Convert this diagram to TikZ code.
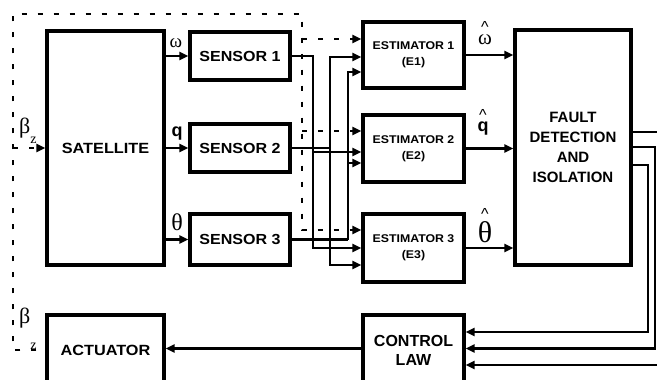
\documentclass[tikz,border=0pt]{standalone}
\usepackage{fontspec}
\setmainfont{Liberation Sans}
\newfontfamily\grk{Liberation Serif}
\newfontfamily\wide[FakeStretch=1.1]{Liberation Sans}
\usetikzlibrary{arrows.meta}
\begin{document}
\begin{tikzpicture}[x=1pt,y=-1pt,
  blk/.style={draw,line width=3.2pt,inner sep=0pt,align=center,font=\bfseries\fontsize{15}{20}\selectfont},
  est/.style={blk,minimum width=101pt,font=\wide\bfseries\fontsize{11.2}{16}\selectfont},
  sens/.style={blk,minimum width=100pt,minimum height=48pt,font=\wide\bfseries\fontsize{14.6}{18}\selectfont},
  wire/.style={line width=2.6pt},
  arr/.style={wire,-{Triangle[length=9pt,width=8pt]}},
  dots/.style={line width=2.9pt,dash pattern=on 5pt off 11pt},
  darr/.style={dots,-{Triangle[length=9pt,width=8pt]}},
  lab/.style={inner sep=0pt,anchor=base},
  caret/.style={inner sep=0pt,anchor=base,font=\fontsize{16}{16}\selectfont}
]
\useasboundingbox (0,0) rectangle (657,380);
\clip (0,0) rectangle (657,380);
% blocks
\node[blk,minimum width=117pt,minimum height=234pt,font=\wide\bfseries\fontsize{14.8}{18}\selectfont] (sat) at (105.5,148) {SATELLITE};
\node[sens] (s1) at (240,56) {SENSOR 1};
\node[sens] (s2) at (240,148) {SENSOR 2};
\node[sens,minimum height=51pt] (s3) at (240,239.5) {SENSOR 3};
\node[blk,minimum width=117pt,minimum height=70pt,font=\wide\bfseries\fontsize{14.8}{18}\selectfont] (act) at (105.5,350) {ACTUATOR};
\node[est,minimum height=66pt] (e1) at (413.5,55) {ESTIMATOR 1\\(E1)};
\node[est,minimum height=67pt] (e2) at (413.5,148.5) {ESTIMATOR 2\\(E2)};
\node[est,minimum height=68pt] (e3) at (413.5,248) {ESTIMATOR 3\\(E3)};
\node[blk,minimum width=116pt,minimum height=235pt] (fdi) at (573,147.5) {FAULT\\DETECTION\\AND\\ISOLATION};
\node[blk,minimum width=101pt,minimum height=70pt,font=\bfseries\fontsize{16}{19}\selectfont] (cl) at (413.5,350) {CONTROL\\LAW};
% helper coordinates
\coordinate (vd) at (302,0); \coordinate (vl) at (13,0);
\coordinate (v1) at (313,0); \coordinate (v2) at (330,0); \coordinate (v3) at (348,0);
\coordinate (top) at (0,14);
\coordinate (i1a) at (0,39);  \coordinate (i1b) at (0,57);  \coordinate (i1c) at (0,72);
\coordinate (i2a) at (0,131); \coordinate (i2b) at (0,152); \coordinate (i2c) at (0,163);
\coordinate (i3a) at (0,230); \coordinate (i3b) at (0,248); \coordinate (i3c) at (0,265);
\coordinate (rx) at (662,0); \coordinate (r2) at (655,0); \coordinate (r3) at (648,0);
\coordinate (o1) at (0,132); \coordinate (o2) at (0,147); \coordinate (o3) at (0,165);
\coordinate (c1) at (0,332); \coordinate (c2) at (0,348.5); \coordinate (c3) at (0,365);
% satellite to sensors
\draw[arr] (sat.east |- s1.west) -- (s1.west);
\draw[arr] (sat.east |- s2.west) -- (s2.west);
\draw[arr] (sat.east |- s3.west) -- (s3.west);
% sensor 1
\draw[arr] (s1.east) -| (v1 |- i2b) -- (e2.west |- i2b);
\draw[arr] (v1 |- i2b) |- (e3.west |- i3b);
% sensor 2
\draw[wire] (s2.east) -- (s2.east -| v2);
\draw[arr] (s2.east -| v2) |- (e1.west |- i1b);
\draw[arr] (s2.east -| v2) |- (e3.west |- i3c);
% sensor 3
\draw[wire] (s3.east) -- (s3.east -| v3);
\draw[arr] (s3.east -| v3) |- (e1.west |- i1c);
\draw[arr] (v3 |- i2c) -- (e2.west |- i2c);
% dotted beta_z loop
\coordinate (bstart) at ([xshift=-9pt]act.west);
\draw[darr] (bstart) -| (vl |- top) -| (vd |- i3a) -- (e3.west |- i3a);
\draw[darr] (vd |- i1a) -- (e1.west |- i1a);
\draw[darr] (vd |- i2a) -- (e2.west |- i2a);
\draw[darr] (vl |- sat.west) -- (sat.west);
% estimator outputs
\draw[arr] (e1.east) -- (fdi.west |- e1.east);
\draw[arr] (e2.east) -- (fdi.west |- e2.east);
\draw[arr] (e3.east) -- (fdi.west |- e3.east);
% FDI outputs and control law
\draw[wire] (fdi.east |- o1) -- (rx |- o1);
\draw[arr] (fdi.east |- o2) -| (r2 |- c2) -- (cl.east |- c2);
\draw[arr] (fdi.east |- o3) -| (r3 |- c1) -- (cl.east |- c1);
\draw[arr] (rx |- c3) -- (cl.east |- c3);
\draw[arr] (cl.west |- c2) -- (act.east |- c2);
% labels
\node[lab] (lw) at (176,48) {\grk\fontsize{19}{19}\selectfont ω};
\node[lab] (lq) at (177,136) {\bfseries\fontsize{18}{18}\selectfont q};
\node[lab] (lt) at (177,230) {\grk\fontsize{24}{24}\selectfont θ};
\node[lab,anchor=base west] (bz1) at (19,133) {\grk\fontsize{22}{22}\selectfont β\raisebox{-10pt}{\fontsize{14}{14}\selectfont z}};
\node[lab,anchor=base west] (bz2) at (19,323.5) {\grk\fontsize{22}{22}\selectfont β\raisebox{-26pt}{\fontsize{14}{14}\selectfont z}};
\node[lab] (hw) at (485,45) {\grk\fontsize{21}{21}\selectfont ω};
\node[caret] (cw) at (485,32) {\textasciicircum};
\node[lab] (hq) at (483,131) {\bfseries\fontsize{18}{18}\selectfont q};
\node[caret] (cq) at (483,120) {\textasciicircum};
\node[lab] (ht) at (485,242) {\grk\fontsize{30}{30}\selectfont θ};
\node[caret] (ct) at (485,219) {\textasciicircum};
\end{tikzpicture}
\end{document}
